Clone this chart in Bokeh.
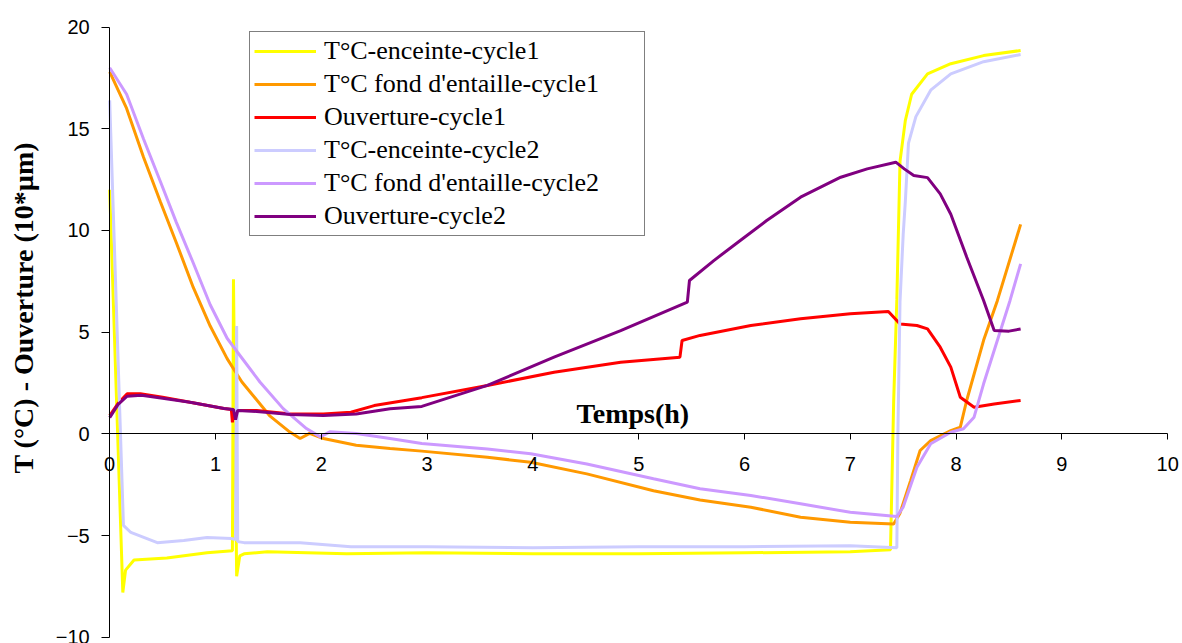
from math import pi
from bokeh.plotting import figure
from bokeh.models import Range1d, FixedTicker, Legend, LegendItem, Label, LinearAxis
from bokeh.embed import file_html
from bokeh.resources import INLINE

# ---------------- data ----------------
x_ticks = [0, 1, 2, 3, 4, 5, 6, 7, 8, 9, 10]
y_ticks = [-10, -5, 0, 5, 10, 15, 20]

names = ["T°C-enceinte-cycle1", "T°C fond d'entaille-cycle1", "Ouverture-cycle1",
         "T°C-enceinte-cycle2", "T°C fond d'entaille-cycle2", "Ouverture-cycle2"]
colors = ["#FFFF00", "#FF9900", "#FF0000", "#CCCCFF", "#CC99FF", "#800080"]

t_enc1 = [0.0, 0.124, 0.15, 0.23, 0.54, 0.92, 1.16, 1.17, 1.20, 1.23, 1.27, 1.49, 2.24, 3.0,
          4.0, 5.0, 6.0, 7.0, 7.38, 7.41, 7.44, 7.47, 7.52, 7.58, 7.73, 7.95, 8.26, 8.61]
v_enc1 = [12.0, -7.8, -6.7, -6.2, -6.1, -5.85, -5.75, 7.6, -7.0, -6.0, -5.9, -5.8, -5.9, -5.85,
          -5.9, -5.9, -5.85, -5.8, -5.7, 1.6, 6.6, 13.4, 15.4, 16.7, 17.7, 18.2, 18.6, 18.85]

t_fond1 = [0.0, 0.16, 0.32, 0.48, 0.63, 0.79, 0.95, 1.11, 1.17, 1.25, 1.51, 1.70, 1.80, 1.89,
           2.02, 2.33, 2.65, 2.95, 3.57, 3.98, 4.51, 5.14, 5.58, 6.06, 6.53, 7.0, 7.41, 7.47,
           7.57, 7.66, 7.76, 7.95, 8.04, 8.10, 8.26, 8.39, 8.61]
v_fond1 = [17.8, 16.0, 13.6, 11.4, 9.4, 7.2, 5.3, 3.7, 3.2, 2.55, 0.9, 0.1, -0.23, 0.02,
           -0.23, -0.56, -0.72, -0.85, -1.15, -1.4, -1.97, -2.8, -3.25, -3.61, -4.1, -4.35, -4.43, -3.9,
           -2.3, -0.82, -0.33, 0.16, 0.33, 1.64, 4.6, 6.55, 10.3]

t_ouv1 = [0.0, 0.08, 0.165, 0.29, 0.5, 0.76, 1.08, 1.15, 1.16, 1.17, 1.39, 1.71, 2.02, 2.28,
          2.5, 2.95, 3.57, 4.2, 4.83, 5.39, 5.41, 5.58, 6.06, 6.53, 7.0, 7.36, 7.47, 7.63,
          7.73, 7.85, 7.95, 8.04, 8.17, 8.36, 8.61]
v_ouv1 = [0.9, 1.5, 1.97, 1.97, 1.8, 1.55, 1.25, 1.2, 0.57, 1.15, 1.15, 0.98, 0.98, 1.06,
          1.39, 1.78, 2.38, 3.03, 3.52, 3.77, 4.59, 4.84, 5.33, 5.66, 5.9, 6.02, 5.4, 5.33,
          5.16, 4.26, 3.28, 1.8, 1.31, 1.47, 1.64]

t_enc2 = [0.0, 0.13, 0.2, 0.45, 0.7, 0.92, 1.15, 1.19, 1.20, 1.21, 1.27, 1.8, 2.28, 3.0, 4.0,
          5.0, 6.0, 7.0, 7.44, 7.45, 7.47, 7.50, 7.52, 7.55, 7.62, 7.76, 7.95, 8.26, 8.61]
v_enc2 = [16.4, -4.5, -4.85, -5.35, -5.25, -5.1, -5.15, -5.2, 5.3, -5.3, -5.35, -5.35, -5.55,
          -5.55, -5.6, -5.55, -5.55, -5.5, -5.6, 0.0, 6.5, 9.8, 11.4, 14.3, 15.6, 16.9, 17.7,
          18.3, 18.65]

t_fond2 = [0.0, 0.16, 0.32, 0.48, 0.63, 0.79, 0.95, 1.11, 1.21, 1.42, 1.64, 1.86, 1.99, 2.08,
           2.33, 2.65, 2.95, 3.57, 3.98, 4.51, 5.14, 5.58, 6.06, 6.53, 7.0, 7.44, 7.50, 7.63,
           7.76, 7.95, 8.07, 8.17, 8.26, 8.51, 8.61]
v_fond2 = [18.0, 16.7, 14.5, 12.4, 10.4, 8.4, 6.35, 4.7, 4.0, 2.55, 1.24, 0.26, -0.15, 0.1,
           0.02, -0.23, -0.47, -0.74, -0.98, -1.48, -2.21, -2.7, -3.03, -3.44, -3.86, -4.07, -3.6,
           -1.64, -0.49, 0.08, 0.25, 0.82, 2.46, 6.56, 8.36]

t_ouv2 = [0.0, 0.08, 0.165, 0.3, 0.5, 0.76, 1.08, 1.17, 1.19, 1.21, 1.39, 1.71, 2.02, 2.33,
          2.65, 2.95, 3.57, 4.2, 4.83, 5.46, 5.48, 5.71, 5.96, 6.21, 6.53, 6.91, 7.16, 7.43,
          7.51, 7.6, 7.73, 7.85, 7.95, 8.1, 8.26, 8.36, 8.5, 8.61]
v_ouv2 = [0.8, 1.45, 1.85, 1.9, 1.75, 1.55, 1.25, 1.2, 0.7, 1.15, 1.1, 0.95, 0.9, 0.98,
          1.23, 1.35, 2.38, 3.77, 5.08, 6.48, 7.54, 8.52, 9.51, 10.49, 11.64, 12.62, 13.03, 13.36,
          13.03, 12.7, 12.6, 11.8, 10.8, 8.7, 6.56, 5.08, 5.05, 5.16]

series_t = [t_enc1, t_fond1, t_ouv1, t_enc2, t_fond2, t_ouv2]
series_v = [v_enc1, v_fond1, v_ouv1, v_enc2, v_fond2, v_ouv2]

x_title = "Temps(h)"
y_title = "T (°C) - Ouverture (10*µm)"

# ---------------- figure ----------------
# The frame fills the whole canvas; both axes sit at the data origin (Excel style)
p = figure(width=1182, height=643, output_backend="svg", toolbar_location=None,
           x_range=Range1d(-1.032, 10.14), y_range=Range1d(-10.31, 21.31),
           x_axis_location=None, y_axis_location=None, min_border=0)
p.background_fill_color = "white"
p.border_fill_color = "white"
p.outline_line_color = None
p.grid.visible = False

xaxis = LinearAxis(fixed_location=0, bounds=(0, 10), ticker=FixedTicker(ticks=x_ticks))
yaxis = LinearAxis(fixed_location=0, bounds=(-10, 20), ticker=FixedTicker(ticks=y_ticks))
for ax in (xaxis, yaxis):
    ax.axis_line_color = "black"
    ax.axis_line_width = 1
    ax.major_tick_line_color = "black"
    ax.major_tick_in = 0
    ax.minor_tick_line_color = None
    ax.major_label_text_font = "Liberation Sans"
    ax.major_label_text_font_size = "20px"
    ax.major_label_text_color = "black"
xaxis.major_tick_out = 6
yaxis.major_tick_out = 8
xaxis.major_label_standoff = 17
yaxis.major_label_standoff = 12
p.add_layout(xaxis, "below")
p.add_layout(yaxis, "left")

renderers = []
for t, v, c in zip(series_t, series_v, colors):
    r = p.line(t, v, line_color=c, line_width=3)
    renderers.append(r)

legend = Legend(items=[LegendItem(label=n, renderers=[r]) for n, r in zip(names, renderers)],
                location=(249, 407))
legend.label_text_font = "Liberation Serif"
legend.label_text_font_size = "26px"
legend.label_text_color = "black"
legend.label_height = 30
legend.glyph_height = 30
legend.glyph_width = 62
legend.label_standoff = 8
legend.label_width = 316
legend.spacing = 3
legend.padding = 4
legend.margin = 0
legend.border_line_color = "black"
legend.border_line_width = 1
legend.background_fill_color = "white"
legend.background_fill_alpha = 1.0
p.add_layout(legend)

p.add_layout(Label(x=4.945, y=0.98, text=x_title, text_align="center",
                   text_baseline="alphabetic", text_font="Liberation Serif",
                   text_font_size="28px", text_font_style="bold", text_color="black"))
p.add_layout(Label(x=-0.815, y=6.2, text=y_title, angle=pi / 2,
                   text_align="center", text_baseline="middle", text_font="Liberation Serif",
                   text_font_size="28px", text_font_style="bold", text_color="black"))

open("out.html", "w").write(file_html(p, INLINE))
